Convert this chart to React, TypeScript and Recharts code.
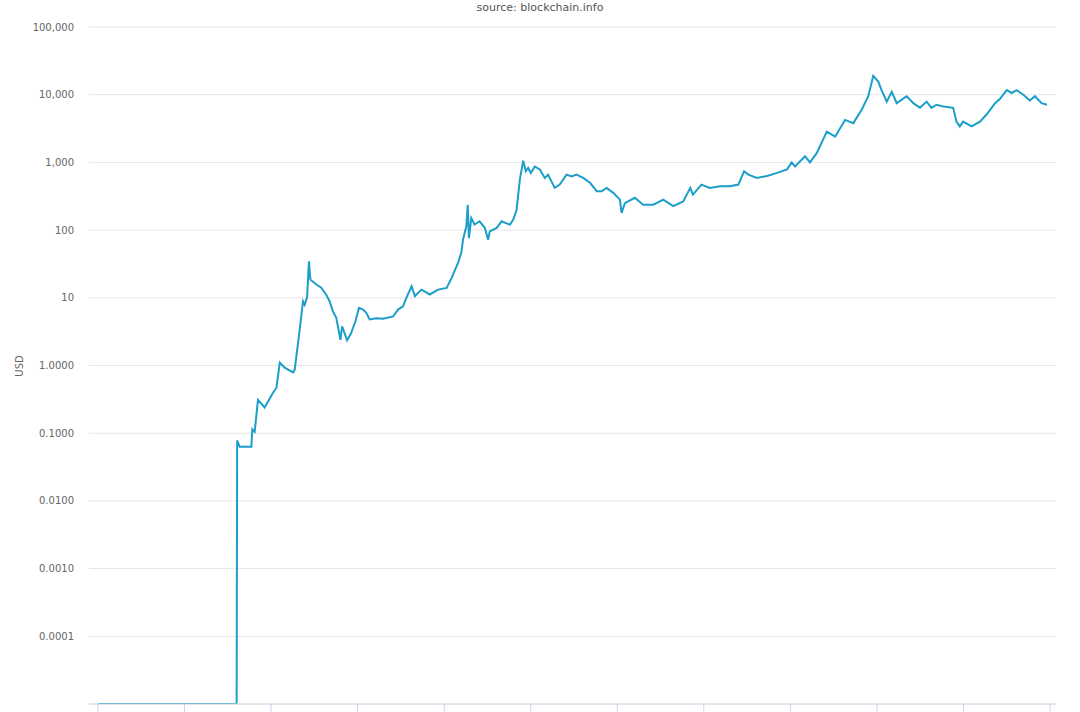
import React from "react";
import { LineChart, Line, XAxis, YAxis, CartesianGrid } from "recharts";

// Bitcoin market price (USD)
const dates = [
  "2009-01-03", "2010-08-09", "2010-08-11", "2010-08-22", "2010-10-10", "2010-10-14", "2010-10-24", "2010-11-07", "2010-12-05",
  "2011-01-10", "2011-01-24", "2011-02-07", "2011-02-28", "2011-04-04", "2011-04-11", "2011-05-02", "2011-05-16", "2011-05-23",
  "2011-06-02", "2011-06-10", "2011-06-16", "2011-07-11", "2011-08-01", "2011-08-22", "2011-09-05", "2011-09-19", "2011-10-03",
  "2011-10-21", "2011-10-28", "2011-11-18", "2011-12-05", "2011-12-23",
  "2012-01-07", "2012-01-24", "2012-02-07", "2012-02-21", "2012-03-21", "2012-04-18", "2012-05-30", "2012-06-20", "2012-07-11",
  "2012-07-25", "2012-08-16", "2012-08-30", "2012-09-27", "2012-11-01", "2012-12-06",
  "2013-01-11", "2013-02-01", "2013-02-28", "2013-03-14", "2013-03-21", "2013-04-04", "2013-04-10", "2013-04-15", "2013-04-25",
  "2013-05-09", "2013-05-30", "2013-06-21", "2013-07-05", "2013-07-12", "2013-08-10", "2013-08-31", "2013-10-05", "2013-10-19",
  "2013-11-02", "2013-11-16", "2013-11-30", "2013-12-11", "2013-12-21",
  "2014-01-01", "2014-01-18", "2014-02-08", "2014-03-01", "2014-03-15", "2014-04-12", "2014-05-03", "2014-06-01", "2014-06-22",
  "2014-07-13", "2014-08-10", "2014-09-08", "2014-10-06", "2014-10-27", "2014-11-17", "2014-12-15",
  "2015-01-12", "2015-01-19", "2015-02-02", "2015-03-16", "2015-04-20", "2015-06-02", "2015-07-14", "2015-08-25", "2015-10-06",
  "2015-11-05", "2015-11-16", "2015-12-22",
  "2016-01-26", "2016-03-09", "2016-04-20", "2016-05-26", "2016-06-19", "2016-07-07", "2016-08-12", "2016-09-24", "2016-11-05",
  "2016-12-17",
  "2017-01-06", "2017-01-20", "2017-03-03", "2017-03-24", "2017-04-22", "2017-06-03", "2017-07-08", "2017-08-19", "2017-09-23",
  "2017-10-28", "2017-11-25", "2017-12-16",
  "2018-01-06", "2018-01-20", "2018-02-11", "2018-03-04", "2018-03-25", "2018-05-06", "2018-06-03", "2018-07-01", "2018-07-29",
  "2018-08-19", "2018-09-09", "2018-10-07", "2018-11-18", "2018-12-02", "2018-12-16", "2018-12-30",
  "2019-02-04", "2019-03-11", "2019-04-08", "2019-05-14", "2019-06-04", "2019-07-02", "2019-07-23", "2019-08-13", "2019-09-10",
  "2019-10-08", "2019-10-29", "2019-11-26", "2019-12-19",
];

const prices = [
  0.00001, 0.00001, 0.078, 0.063, 0.063, 0.114, 0.105, 0.31, 0.24,
  0.4, 0.47, 1.1, 0.93, 0.79, 0.87, 3.4, 8.9, 7.9,
  10.1, 34.7, 18.6, 15.7, 14.1, 11.1, 8.9, 6.3, 5.1,
  2.4, 3.8, 2.36, 3.0, 4.5,
  7.1, 6.7, 6.0, 4.8, 5.0, 4.9, 5.3, 6.7, 7.5,
  10.0, 14.8, 10.6, 13.2, 11.2, 13.2,
  14.0, 19.7, 32.8, 46.5, 72, 113, 237, 76, 150,
  121, 135, 108, 72, 96, 108, 135, 120, 143,
  200, 560, 1060, 740, 828,
  700, 870, 785, 590, 659, 420, 470, 660, 620,
  660, 590, 500, 375, 375, 420, 355,
  282, 179, 250, 300, 237, 237, 282, 226, 265,
  420, 334, 470,
  420, 445, 445, 470, 740, 660, 590, 630, 700,
  785,
  1000, 870, 1230, 1000, 1380, 2850, 2400, 4240, 3800,
  6000, 9500, 19000,
  15600, 11700, 7900, 11000, 7500, 9500, 7500, 6400, 7900,
  6400, 7100, 6700, 6400, 4000, 3400, 4000,
  3400, 4000, 5100, 7500, 8700, 11700, 10600, 11700, 10000,
  8200, 9500, 7500, 7100,
];

const years = [2009, 2010, 2011, 2012, 2013, 2014, 2015, 2016, 2017, 2018, 2019, 2020];
const yTicks = [0.00001, 0.0001, 0.001, 0.01, 0.1, 1, 10, 100, 1000, 10000, 100000];

const data = dates.map((d, i) => ({ t: Date.parse(d + "T00:00:00Z"), price: prices[i] }));
const xTicks = years.map((y) => Date.UTC(y, 0, 1));
const xDomain = [Date.UTC(2008, 10, 24), Date.UTC(2020, 0, 26)];

const FONT = "'DejaVu Sans', sans-serif";
const LINE = "#1b9fc8";

function formatUsd(v: number) {
  if (v < 0.0001) return "";
  if (v >= 10) return v.toLocaleString("en-US");
  return v.toFixed(4);
}

export default function App() {
  return (
    <div style={{ position: "absolute", left: 0, top: 0, width: 1080, height: 712, background: "#fff", fontFamily: FONT }}>
      <div
        style={{
          position: "absolute",
          top: 1,
          left: 0,
          width: 1080,
          textAlign: "center",
          fontSize: 11,
          lineHeight: "13px",
          color: "#555",
        }}
      >
        source: blockchain.info
      </div>
      <div
        style={{
          position: "absolute",
          left: 0,
          top: 359,
          width: 40,
          height: 14,
          lineHeight: "14px",
          textAlign: "center",
          fontSize: 10,
          color: "#666",
          transform: "rotate(-90deg)",
        }}
      >
        USD
      </div>
      <LineChart width={1080} height={712} data={data} margin={{ top: 27, right: 24, bottom: 0, left: 0 }}>
        <CartesianGrid vertical={false} stroke="#e6e6e6" />
        <XAxis
          dataKey="t"
          type="number"
          domain={xDomain}
          ticks={xTicks}
          allowDataOverflow
          height={8}
          tickSize={8}
          tickFormatter={() => ""}
          stroke="#ccd6eb"
          tickLine={{ stroke: "#ccd6eb" }}
          axisLine={{ stroke: "#ccd6eb" }}
        />
        <YAxis
          type="number"
          scale="log"
          domain={[0.00001, 100000]}
          ticks={yTicks}
          allowDataOverflow
          width={89}
          axisLine={false}
          tickLine={false}
          tickSize={0}
          tickMargin={15}
          tickFormatter={formatUsd}
          tick={{ fontSize: 10, fill: "#666", fontFamily: FONT }}
        />
        <Line
          type="linear"
          dataKey="price"
          stroke={LINE}
          strokeWidth={2}
          dot={false}
          isAnimationActive={false}
        />
      </LineChart>
    </div>
  );
}
